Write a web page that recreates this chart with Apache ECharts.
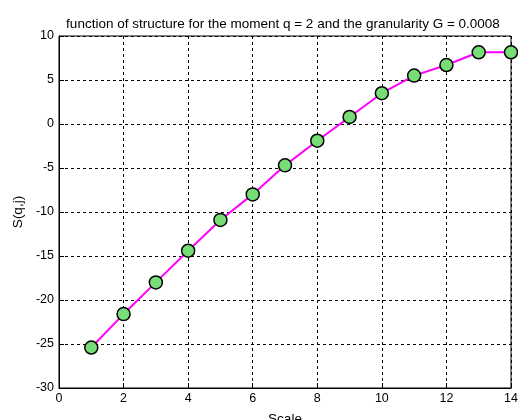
<!DOCTYPE html>
<html>
<head>
<meta charset="utf-8">
<script src="https://cdn.jsdelivr.net/npm/echarts@6/dist/echarts.min.js"></script>
<style>html,body{margin:0;padding:0;background:#fff}#c{width:518px;height:420px}</style>
</head>
<body>
<div id="c"></div>
<script>
var scales = [1,2,3,4,5,6,7,8,9,10,11,12,13,14];
var sValues = [-25.4,-21.6,-18.0,-14.4,-10.9,-8.0,-4.7,-1.9,0.8,3.5,5.5,6.7,8.15,8.15];
var titleText = 'function of structure for the moment q = 2 and the granularity G = 0.0008';

var chart = echarts.init(document.getElementById('c'));
var fontFam = 'Liberation Sans, Arial, sans-serif';
chart.setOption({
  backgroundColor: '#fff',
  animation: false,
  title: {
    text: titleText, left: 278, top: 12, textAlign: 'center',
    textStyle: {fontSize: 13.5, fontWeight: 'normal', color: '#000', fontFamily: fontFam}
  },
  grid: {left: 59, right: 7, top: 36, bottom: 32, show: true, borderColor: '#000', borderWidth: 1, containLabel: false, outerBoundsMode: 'none'},
  xAxis: {
    type: 'value', min: 0, max: 14, interval: 2,
    name: 'Scale', nameLocation: 'middle', nameGap: 24,
    nameTextStyle: {fontSize: 13.5, color: '#000', fontFamily: fontFam, verticalAlign: 'top'},
    axisLine: {show: true, onZero: false, lineStyle: {color: '#000'}},
    axisTick: {show: true, inside: true, length: 5, lineStyle: {color: '#000'}},
    axisLabel: {fontSize: 12.5, color: '#000', fontFamily: fontFam, margin: 4},
    splitLine: {show: true, lineStyle: {color: '#000', type: [3,3], width: 1}}
  },
  yAxis: {
    type: 'value', min: -30, max: 10, interval: 5,
    name: 'S(q,j)', nameLocation: 'middle', nameGap: 34,
    nameTextStyle: {fontSize: 13.5, color: '#000', fontFamily: fontFam},
    axisLine: {show: true, onZero: false, lineStyle: {color: '#000'}},
    axisTick: {show: true, inside: true, length: 5, lineStyle: {color: '#000'}},
    axisLabel: {fontSize: 12.5, color: '#000', fontFamily: fontFam, margin: 5},
    splitLine: {show: true, lineStyle: {color: '#000', type: [3,3], width: 1}}
  },
  series: [{
    type: 'line',
    data: scales.map(function(x,i){return [x, sValues[i]];}),
    lineStyle: {color: '#ff00ff', width: 2},
    symbol: 'circle', symbolSize: 13,
    itemStyle: {color: '#77dd77', borderColor: '#000', borderWidth: 1.5},
    clip: false
  }]
});
</script>
</body>
</html>
